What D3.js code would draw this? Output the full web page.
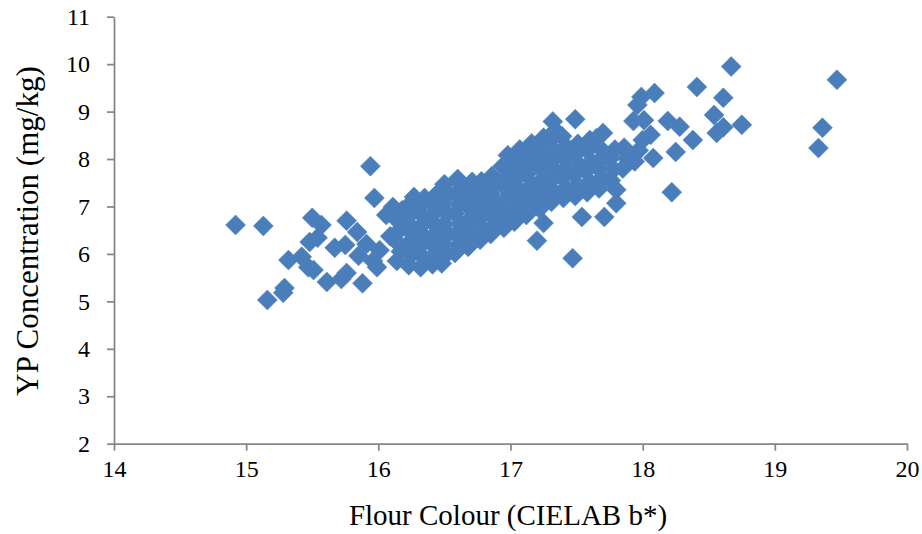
<!DOCTYPE html>
<html>
<head>
<meta charset="utf-8">
<script src="https://cdn.jsdelivr.net/npm/d3@7"></script>
<style>
  body { margin: 0; background: #ffffff; }
  svg { display: block; }
</style>
</head>
<body>
<svg id="chart" width="922" height="534"></svg>
<script>
// Flour colour (CIELAB b*) of each sample
const flourColour = [
  // low-colour samples
  14.92, 15.13, 15.16, 15.28, 15.29, 15.32, 15.42, 15.47, 15.51, 15.61, 15.72, 15.88,
  15.50, 15.57, 15.48, 15.54, 15.67, 15.75, 15.76, 15.76, 15.84, 15.85, 15.91, 15.94,
  15.97, 15.96, 16.01, 15.99, 16.06, 16.11, 16.09,
  // main body
  16.14, 16.17, 16.13, 16.16, 16.14, 16.18,
  16.23, 16.25, 16.22, 16.26, 16.23, 16.25, 16.24, 16.27,
  16.32, 16.34, 16.31, 16.35, 16.32, 16.34, 16.31, 16.35,
  16.41, 16.43, 16.40, 16.44, 16.41, 16.43, 16.40, 16.44,
  16.48, 16.51, 16.49, 16.53, 16.50, 16.52, 16.49, 16.53, 16.50,
  16.58, 16.61, 16.59, 16.62, 16.58, 16.61, 16.59, 16.62, 16.60,
  16.68, 16.70, 16.67, 16.71, 16.68, 16.70, 16.67, 16.71,
  16.77, 16.79, 16.76, 16.80, 16.77, 16.79, 16.78,
  16.85, 16.88, 16.86, 16.89, 16.85, 16.88, 16.86,
  16.95, 16.97, 16.94, 16.98, 16.95, 16.97, 16.94, 16.98,
  17.03, 17.06, 17.04, 17.07, 17.03, 17.06, 17.04, 17.07,
  17.12, 17.15, 17.13, 17.16, 17.12, 17.15, 17.13, 17.16,
  17.22, 17.24, 17.21, 17.25, 17.22, 17.24, 17.21, 17.25,
  17.31, 17.33, 17.30, 17.34, 17.31, 17.33, 17.30, 17.34,
  17.40, 17.42, 17.39, 17.43, 17.40, 17.42, 17.39,
  17.49, 17.51, 17.48, 17.52, 17.49, 17.51,
  17.58, 17.60, 17.57, 17.61, 17.58, 17.60,
  17.67, 17.69, 17.66, 17.70, 17.67,
  17.76, 17.78, 17.75, 17.79,
  17.85, 17.88, 17.86,
  17.94, 17.97, 18.00,
  // upper and right samples
  18.06, 18.08, 17.93, 18.01, 17.96, 17.99, 18.09, 17.70, 17.65, 17.49, 17.32,
  18.19, 18.28, 18.25, 18.22, 18.38, 18.41, 18.54, 18.61, 18.61, 18.56, 18.75,
  18.67, 19.47, 19.36, 19.33,
  // lower edge of the main body
  17.20, 17.25, 17.47, 17.54, 17.71, 17.80, 17.80
];

// Yellow pigment concentration (mg/kg) of the same samples
const ypConcentration = [
  6.61, 6.59, 5.03, 5.18, 5.28, 5.87, 5.94, 5.72, 5.66, 5.41, 5.47, 5.38,
  6.76, 6.61, 6.25, 6.34, 6.13, 6.19, 6.70, 5.60, 6.46, 5.96, 6.21, 7.85,
  7.18, 5.85, 6.08, 5.72, 6.82, 6.99, 6.37,
  5.85, 6.05, 6.28, 6.50, 6.72, 6.92,
  5.76, 5.98, 6.20, 6.42, 6.63, 6.85, 7.05, 7.20,
  5.72, 5.93, 6.15, 6.36, 6.58, 6.80, 7.00, 7.18,
  5.78, 6.00, 6.22, 6.45, 6.66, 6.88, 7.08, 7.25,
  5.80, 5.98, 6.20, 6.42, 6.63, 6.85, 7.05, 7.27, 7.47,
  6.02, 6.20, 6.42, 6.63, 6.85, 7.06, 7.28, 7.50, 7.58,
  6.15, 6.35, 6.56, 6.78, 7.00, 7.20, 7.40, 7.52,
  6.30, 6.50, 6.72, 6.93, 7.14, 7.35, 7.53,
  6.42, 6.62, 6.84, 7.05, 7.27, 7.47, 7.64,
  6.55, 6.76, 6.98, 7.20, 7.42, 7.63, 7.85, 8.08,
  6.68, 6.90, 7.12, 7.34, 7.55, 7.77, 7.98, 8.20,
  6.82, 7.02, 7.24, 7.46, 7.68, 7.90, 8.10, 8.33,
  6.95, 7.16, 7.38, 7.60, 7.82, 8.04, 8.25, 8.45,
  7.10, 7.30, 7.52, 7.74, 7.95, 8.17, 8.38, 8.60,
  7.18, 7.40, 7.62, 7.84, 8.05, 8.27, 8.48,
  7.22, 7.45, 7.67, 7.88, 8.10, 8.32,
  7.30, 7.52, 7.74, 7.95, 8.18, 8.40,
  7.38, 7.60, 7.82, 8.04, 8.25,
  7.55, 7.78, 8.00, 8.20,
  7.80, 8.02, 8.24,
  7.95, 8.18, 8.40,
  8.51, 8.02, 8.80, 8.82, 9.14, 9.31, 9.39, 8.55, 8.44, 8.84, 8.79,
  8.80, 8.68, 8.15, 7.30, 8.40, 9.52, 8.93, 9.29, 8.67, 8.55, 8.72,
  9.95, 9.67, 8.66, 8.23,
  6.28, 6.65, 5.91, 6.78, 6.78, 7.07, 7.35
];

const xTicks = [14, 15, 16, 17, 18, 19, 20];
const yTicks = [2, 3, 4, 5, 6, 7, 8, 9, 10, 11];
const xTitle = "Flour Colour (CIELAB b*)";
const yTitle = "YP Concentration (mg/kg)";

const samples = flourColour.map((v, i) => ({ b: v, yp: ypConcentration[i] }));

const svg = d3.select("#chart");
const fontFamily = "'Liberation Serif', 'Times New Roman', serif";
const axisColour = "#868686";

const plot = { left: 114, right: 907, top: 16.7, bottom: 443.7 };

const x = d3.scaleLinear().domain([14, 20]).range([plot.left, plot.right]);
const y = d3.scaleLinear().domain([2, 11]).range([plot.bottom, plot.top]);

// Axes
const xAxis = d3.axisBottom(x).tickValues(xTicks).tickFormat(d3.format("d"))
  .tickSizeInner(7).tickSizeOuter(0).tickPadding(9);
const yAxis = d3.axisLeft(y).tickValues(yTicks).tickFormat(d3.format("d"))
  .tickSizeInner(7).tickSizeOuter(0).tickPadding(17);

const gx = svg.append("g").attr("transform", `translate(0,${plot.bottom})`).call(xAxis);
const gy = svg.append("g").attr("transform", `translate(${plot.left},0)`).call(yAxis);

[gx, gy].forEach(g => {
  g.selectAll("path.domain").attr("stroke", axisColour).attr("stroke-width", 1.75);
  g.selectAll(".tick line").attr("stroke", axisColour).attr("stroke-width", 1.75);
  g.selectAll(".tick text")
    .attr("fill", "#000")
    .style("font-family", fontFamily)
    .style("font-size", "24px");
});

// Square diamond marker
const diamond = {
  draw(ctx, size) {
    const r = Math.sqrt(size / 2);
    ctx.moveTo(0, -r);
    ctx.lineTo(r, 0);
    ctx.lineTo(0, r);
    ctx.lineTo(-r, 0);
    ctx.closePath();
  }
};

svg.append("g")
  .selectAll("path")
  .data(samples)
  .join("path")
  .attr("transform", d => `translate(${x(d.b)},${y(d.yp)})`)
  .attr("d", d3.symbol().type(diamond).size(200))
  .attr("fill", "#4a7ebb")
  .attr("stroke", "#4f82bf")
  .attr("stroke-width", 0.5);

// Axis titles
svg.append("text")
  .attr("x", 508)
  .attr("y", 525)
  .attr("text-anchor", "middle")
  .style("font-family", fontFamily)
  .style("font-size", "29px")
  .attr("fill", "#000")
  .text(xTitle);

svg.append("text")
  .attr("transform", `translate(38,231) rotate(-90)`)
  .attr("text-anchor", "middle")
  .style("font-family", fontFamily)
  .style("font-size", "31px")
  .attr("fill", "#000")
  .text(yTitle);
</script>
</body>
</html>
